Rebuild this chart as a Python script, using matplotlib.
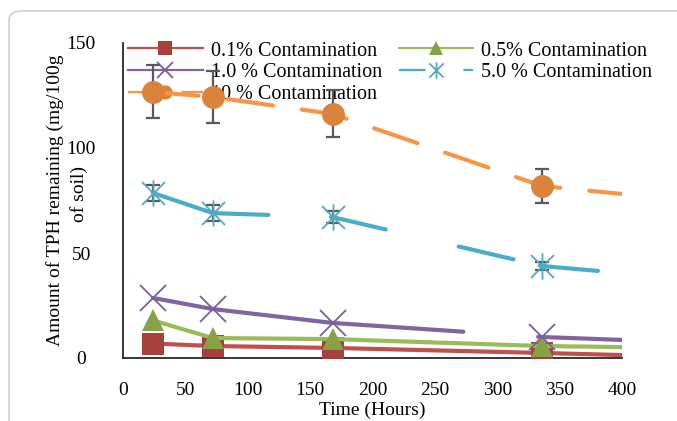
import matplotlib.pyplot as plt
import numpy as np
from matplotlib.lines import Line2D
from matplotlib.path import Path
from matplotlib.patches import FancyBboxPatch

plt.rcParams['font.family'] = ['Liberation Serif', 'DejaVu Serif']

# sampling times (hours)
hours = [24, 72, 168, 336]
# last x reached by each drawn curve
end_x = [400, 400, 400, 382, 400]

labels = ['0.1% Contamination', '0.5% Contamination', '1.0 % Contamination',
          '5.0 % Contamination', '10 % Contamination']

tph_01 = [6.9, 5.7, 4.8, 2.4]
tph_05 = [17.9, 9.5, 9.0, 5.7]
tph_1 = [28.6, 23.3, 16.7, 10.0]
tph_5 = [78.6, 69.0, 67.1, 43.8]
tph_10 = [126.7, 124.3, 116.2, 81.9]

# curve end values
end_y = [1.4, 5.2, 8.6, 41.4, 78.1]

err_5 = [4.0, 3.8, 3.0, 2.1]
err_10 = [12.6, 12.6, 11.2, 8.3]

series = [tph_01, tph_05, tph_1, tph_5, tph_10]
errs = [None, None, None, err_5, err_10]

line_cols = ['#C0504D', '#9BBB59', '#8064A2', '#4BACC6', '#F79646']
mark_cols = ['#A5403D', '#86A244', '#7A5E9E', '#4BACC6', '#DB823B']

star = Path([(-1, -1), (1, 1), (-1, 1), (1, -1), (0, -1.15), (0, 1.15)],
            [Path.MOVETO, Path.LINETO, Path.MOVETO, Path.LINETO, Path.MOVETO, Path.LINETO])
markers = ['s', '^', 'x', star, 'o']
msizes = [16.5, 16.5, 19, 19, 16.5]
dashes = ['-', '-', (0, (75, 18, 200, 1)),
          (0, (28.5, 15, 13.5, 18, 13.5, 6.5, 14, 10)),
          (0, (11, 7))]
leg_dashes = ['-', '-', '-', (0, (12, 17)), (0, (14, 10))]

fig = plt.figure(figsize=(6.77, 4.21), dpi=100)
W, H = 677, 421
ax = fig.add_axes([123 / W, (H - 358) / H, (622 - 123) / W, (358 - 43) / H])

frame = FancyBboxPatch((9 / W, -0.2), 1.2, (H - 11) / H + 0.2, boxstyle='round,pad=0,rounding_size=0.02',
                       transform=fig.transFigure, fill=False, edgecolor='#C8C8C8', lw=1.0, zorder=0)
fig.patches.append(frame)

handles = []
for i, vals in enumerate(series):
    z = 3 + i * 0.1
    xs = hours + [end_x[i]]
    ys = vals + [end_y[i]]
    ax.plot(xs, ys, color=line_cols[i], lw=3, linestyle=dashes[i],
            solid_capstyle='round', dash_capstyle='round', zorder=z)
    if errs[i] is not None:
        ax.errorbar(hours, vals, yerr=errs[i], fmt='none', ecolor='#595959',
                    elinewidth=1.6, capsize=5, capthick=1.6, zorder=z + 0.01)
    filled = markers[i] not in ('x', star)
    ax.plot(hours, vals, linestyle='none', marker=markers[i], markersize=msizes[i],
            markerfacecolor=mark_cols[i] if filled else 'none',
            markeredgecolor=mark_cols[i], markeredgewidth=0 if filled else 1.3,
            zorder=z + 0.05)
    handles.append(Line2D([], [], color=line_cols[i], lw=1.6, linestyle=leg_dashes[i],
                          marker=markers[i], markersize=msizes[i] * 0.62,
                          markerfacecolor=mark_cols[i] if filled else 'none',
                          markeredgecolor=mark_cols[i], markeredgewidth=0 if filled else 1.3))

order = [0, 2, 4, 1, 3]
leg = ax.legend([handles[k] for k in order], [labels[k] for k in order], ncol=2,
                loc='upper left', bbox_to_anchor=(0.01, 1.005), frameon=False,
                fontsize=14.5, handlelength=3.7, handletextpad=0.4, columnspacing=0.85,
                labelspacing=0.13, borderpad=0, borderaxespad=0)
leg.set_zorder(1)

ax.set_xlim(0, 400)
ax.set_ylim(0, 150)
ax.set_xticks(np.arange(0, 401, 50))
ax.set_yticks([0, 50, 100, 150])
ax.tick_params(axis='both', length=0, labelsize=14)
ax.tick_params(axis='x', pad=17)
ax.tick_params(axis='y', pad=30)
for t in ax.get_yticklabels():
    t.set_horizontalalignment('center')

for s in ['top', 'right']:
    ax.spines[s].set_visible(False)
for s in ['left', 'bottom']:
    ax.spines[s].set_color('#262626')
    ax.spines[s].set_linewidth(1.3)

fig.text(372 / W, 1 - 410 / H, 'Time (Hours)', ha='center', va='center', fontsize=14)
# y title wraps onto two lines in the original
fig.text(55 / W, 1 - 200 / H, 'Amount of TPH remaining (mg/100g', rotation=90,
         ha='center', va='center', fontsize=14)
fig.text(79 / W, 1 - 194 / H, 'of soil)', rotation=90, ha='center', va='center', fontsize=14)

fig.savefig('out.png', dpi=100)
